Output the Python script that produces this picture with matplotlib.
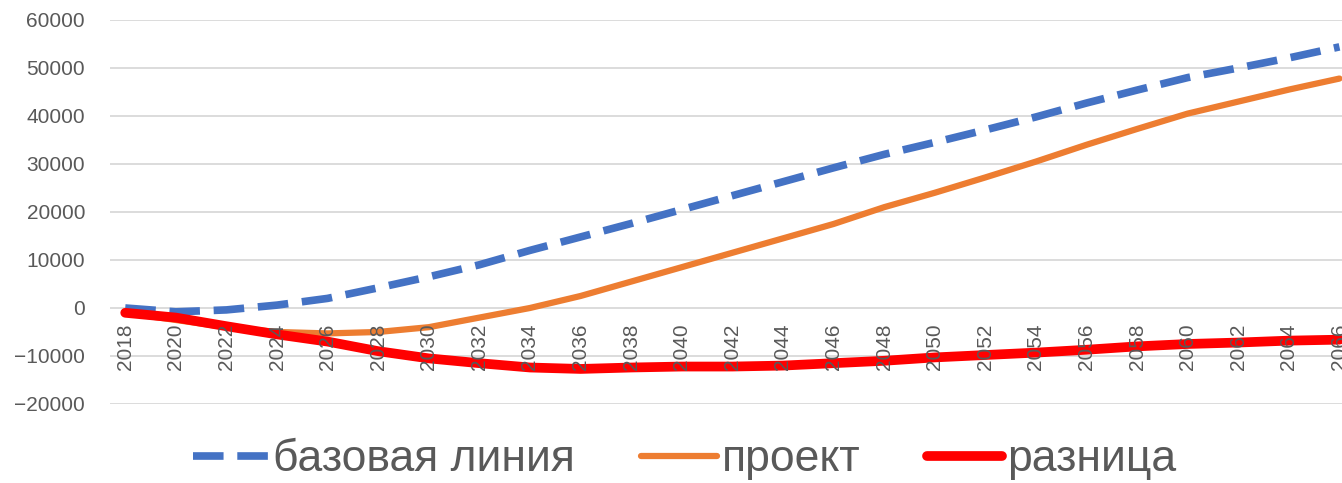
import matplotlib.pyplot as plt
import numpy as np

plt.rcParams['font.family'] = ['Liberation Sans', 'DejaVu Sans']

# years shown every 2 years
years = np.arange(2018, 2067, 2)

# базовая линия
baseline = [0, -800, -400, 600, 2000, 4200, 6500, 9000, 12000, 14800, 17600, 20500, 23400,
            26300, 29200, 32000, 34500, 37100, 39800, 42700, 45400, 48000, 50000, 52100, 54400]
# проект
project = [-1000, -2500, -4000, -5000, -5300, -5000, -4000, -2000, 0, 2500, 5500, 8500, 11500,
           14500, 17500, 21000, 24000, 27200, 30500, 34000, 37300, 40500, 43000, 45500, 47800]
# разница
difference = [-1000, -2000, -3800, -5500, -7000, -9000, -10500, -11500, -12400, -12700, -12400,
              -12200, -12200, -12000, -11500, -11000, -10300, -9800, -9300, -8700, -8000, -7500,
              -7200, -6800, -6600]

yticks = np.arange(-20000, 60001, 10000)

fig = plt.figure(figsize=(13.42, 4.83), dpi=100)
ax = fig.add_axes([0.082, 0.1636, 0.918, 0.795])

# gridlines drawn by hand so the year labels can sit above the lines
for yt in yticks:
    ax.axhline(yt, color='#D9D9D9', linewidth=1.3, zorder=0)

ax.plot(years, baseline, color='#4472C4', linewidth=5.5, linestyle=(0, (4, 1.8)),
        label='базовая линия', zorder=2)
ax.plot(years, project, color='#ED7D31', linewidth=4.5, label='проект',
        solid_capstyle='round', solid_joinstyle='round', zorder=2)
ax.plot(years, difference, color='#FF0000', linewidth=7, label='разница',
        solid_capstyle='round', solid_joinstyle='round', zorder=3)

ax.set_ylim(-20000, 60000)
ax.set_yticks(yticks)
ax.set_xlim(2017.4, 2066.1)
ax.set_xticks(years)
ax.set_xticklabels([str(y) for y in years])
ax.xaxis.set_zorder(5)

for s in ['top', 'right', 'left']:
    ax.spines[s].set_visible(False)
ax.spines['bottom'].set_position(('data', 0))
ax.spines['bottom'].set_visible(False)
ax.tick_params(axis='x', length=0, pad=11, labelsize=15, labelcolor='#595959',
               labelrotation=90)
ax.tick_params(axis='y', length=0, pad=18, labelsize=15, labelcolor='#595959')

fig.legend(loc='center', bbox_to_anchor=(0.51, 0.048), ncol=3, frameon=False,
           fontsize=32, handlelength=1.7, handletextpad=0.1, columnspacing=1.5,
           labelcolor='#595959')

fig.savefig('out.png', dpi=100)
